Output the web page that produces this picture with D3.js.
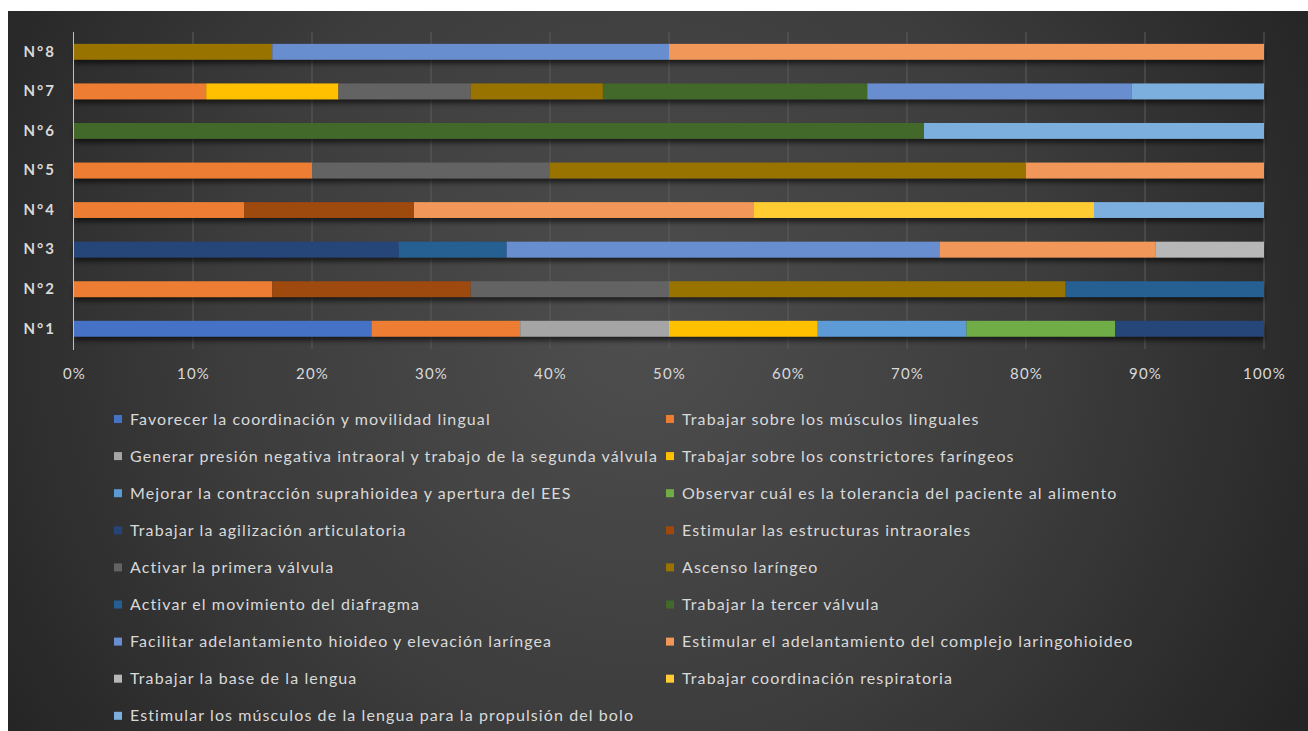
<!DOCTYPE html>
<html>
<head>
<meta charset="utf-8">
<script src="https://cdn.jsdelivr.net/npm/d3@7"></script>
<style>
  body { margin: 0; background: #fff; }
  svg { display: block; }
</style>
</head>
<body>
<svg id="canvas" width="1308" height="731"></svg>
<script>
// patients (bottom to top)
let categories = ['N°1', 'N°2', 'N°3', 'N°4', 'N°5', 'N°6', 'N°7', 'N°8']

let seriesNames = [
    'Favorecer la coordinación y movilidad lingual',
    'Trabajar sobre los músculos linguales',
    'Generar presión negativa intraoral y trabajo de la segunda válvula',
    'Trabajar sobre los constrictores faríngeos',
    'Mejorar la contracción suprahioidea y apertura del EES',
    'Observar cuál es la tolerancia del paciente al alimento',
    'Trabajar la agilización articulatoria',
    'Estimular las estructuras intraorales',
    'Activar la primera válvula',
    'Ascenso laríngeo',
    'Activar el movimiento del diafragma',
    'Trabajar la tercer válvula',
    'Facilitar adelantamiento hioideo y elevación laríngea',
    'Estimular el adelantamiento del complejo laringohioideo',
    'Trabajar la base de la lengua',
    'Trabajar coordinación respiratoria',
    'Estimular los músculos de la lengua para la propulsión del bolo'
]

// counts per series, one value for each of N°1..N°8
let counts = [
    [2, 0, 0, 0, 0, 0, 0, 0],
    [1, 1, 0, 1, 1, 0, 1, 0],
    [1, 0, 0, 0, 0, 0, 0, 0],
    [1, 0, 0, 0, 0, 0, 1, 0],
    [1, 0, 0, 0, 0, 0, 0, 0],
    [1, 0, 0, 0, 0, 0, 0, 0],
    [1, 0, 3, 0, 0, 0, 0, 0],
    [0, 1, 0, 1, 0, 0, 0, 0],
    [0, 1, 0, 0, 1, 0, 1, 0],
    [0, 2, 0, 0, 2, 0, 1, 1],
    [0, 1, 1, 0, 0, 0, 0, 0],
    [0, 0, 0, 0, 0, 5, 2, 0],
    [0, 0, 4, 0, 0, 0, 2, 2],
    [0, 0, 2, 2, 1, 0, 0, 3],
    [0, 0, 1, 0, 0, 0, 0, 0],
    [0, 0, 0, 2, 0, 0, 0, 0],
    [0, 0, 0, 1, 0, 2, 1, 0]
]

let xTicks = [0, 0.1, 0.2, 0.3, 0.4, 0.5, 0.6, 0.7, 0.8, 0.9, 1]

let colors = ['#4472c4', '#ed7d31', '#a5a5a5', '#ffc000', '#5b9bd5', '#70ad47',
    '#264478', '#9e480e', '#636363', '#997300', '#255e91', '#43682b',
    '#698ed0', '#f1975a', '#b7b7b7', '#ffcd33', '#7cafdd']

let svg = d3.select('#canvas')
let defs = svg.append('defs')

let bg = defs.append('radialGradient')
    .attr('id', 'bg')
    .attr('gradientUnits', 'userSpaceOnUse')
    .attr('cx', 640).attr('cy', 330).attr('r', 760)
bg.append('stop').attr('offset', '0%').attr('stop-color', '#4e4e4e')
bg.append('stop').attr('offset', '55%').attr('stop-color', '#3c3c3c')
bg.append('stop').attr('offset', '100%').attr('stop-color', '#242424')

defs.append('filter')
    .attr('id', 'shadow')
    .attr('x', '-5%').attr('y', '-50%').attr('width', '110%').attr('height', '250%')
    .append('feDropShadow')
    .attr('dx', 0).attr('dy', 4).attr('stdDeviation', 2.5)
    .attr('flood-color', '#000').attr('flood-opacity', 0.6)

svg.append('rect')
    .attr('x', 8).attr('y', 11)
    .attr('width', 1300).attr('height', 720)
    .attr('fill', 'url(#bg)')

let x = d3.scaleLinear().domain([0, 1]).range([74, 1264])
let y = d3.scaleBand()
    .domain(categories.slice().reverse())
    .range([32, 348.5])
    .paddingInner(0.6)
    .paddingOuter(0.3)

// gridlines
svg.append('g')
    .selectAll('line')
    .data(xTicks.slice(1))
    .enter()
    .append('line')
    .attr('x1', d => x(d)).attr('x2', d => x(d))
    .attr('y1', 32).attr('y2', 349)
    .attr('stroke', '#5c5c5c')
    .attr('stroke-width', 1)

// stacked bars, normalised to 100%
let rows = categories.map((c, i) => {
    let row = { cat: c }
    seriesNames.forEach((s, j) => { row[s] = counts[j][i] })
    return row
})
let stacked = d3.stack()
    .keys(seriesNames)
    .offset(d3.stackOffsetExpand)(rows)

svg.append('g')
    .attr('filter', 'url(#shadow)')
    .selectAll('g')
    .data(stacked)
    .enter()
    .append('g')
    .attr('fill', (d, i) => colors[i])
    .selectAll('rect')
    .data(d => d.filter(p => p[1] > p[0]))
    .enter()
    .append('rect')
    .attr('x', p => x(p[0]))
    .attr('width', p => x(p[1]) - x(p[0]))
    .attr('y', p => y(p.data.cat))
    .attr('height', y.bandwidth())

// y axis line
svg.append('line')
    .attr('x1', 73.5).attr('x2', 73.5)
    .attr('y1', 32).attr('y2', 350)
    .attr('stroke', '#bfbfbf')
    .attr('stroke-width', 1)

let xAxis = d3.axisBottom(x)
    .tickValues(xTicks)
    .tickFormat(d3.format('.0%'))
    .tickSize(0)
    .tickPadding(0)
let gx = svg.append('g')
    .attr('transform', 'translate(0,368)')
    .call(xAxis)
gx.select('.domain').remove()
gx.selectAll('text')
    .attr('fill', '#d9d9d9')
    .attr('font-family', 'Lato, sans-serif')
    .attr('font-size', 15)
    .attr('letter-spacing', 1.2)

let yAxis = d3.axisLeft(y).tickSize(0).tickPadding(0)
let gy = svg.append('g')
    .attr('transform', 'translate(56,0)')
    .call(yAxis)
gy.select('.domain').remove()
gy.selectAll('text')
    .attr('fill', '#d9d9d9')
    .attr('font-family', 'Lato, sans-serif')
    .attr('font-weight', 'bold')
    .attr('font-size', 15)
    .attr('letter-spacing', 2)

// legend, two columns
let legend = svg.append('g')
    .selectAll('g')
    .data(seriesNames)
    .enter()
    .append('g')
    .attr('transform', (d, i) => {
        let col = i % 2
        let row = Math.floor(i / 2)
        return 'translate(' + (col === 0 ? 114 : 666) + ',' + (419 + row * 37.1) + ')'
    })

legend.append('rect')
    .attr('x', 0).attr('y', -4)
    .attr('width', 8).attr('height', 8)
    .attr('fill', (d, i) => colors[i])

legend.append('text')
    .attr('x', 16)
    .attr('dy', '0.35em')
    .attr('fill', '#d9d9d9')
    .attr('font-family', 'Lato, sans-serif')
    .attr('font-size', 16)
    .attr('letter-spacing', 1.1)
    .text(d => d)
</script>
</body>
</html>
